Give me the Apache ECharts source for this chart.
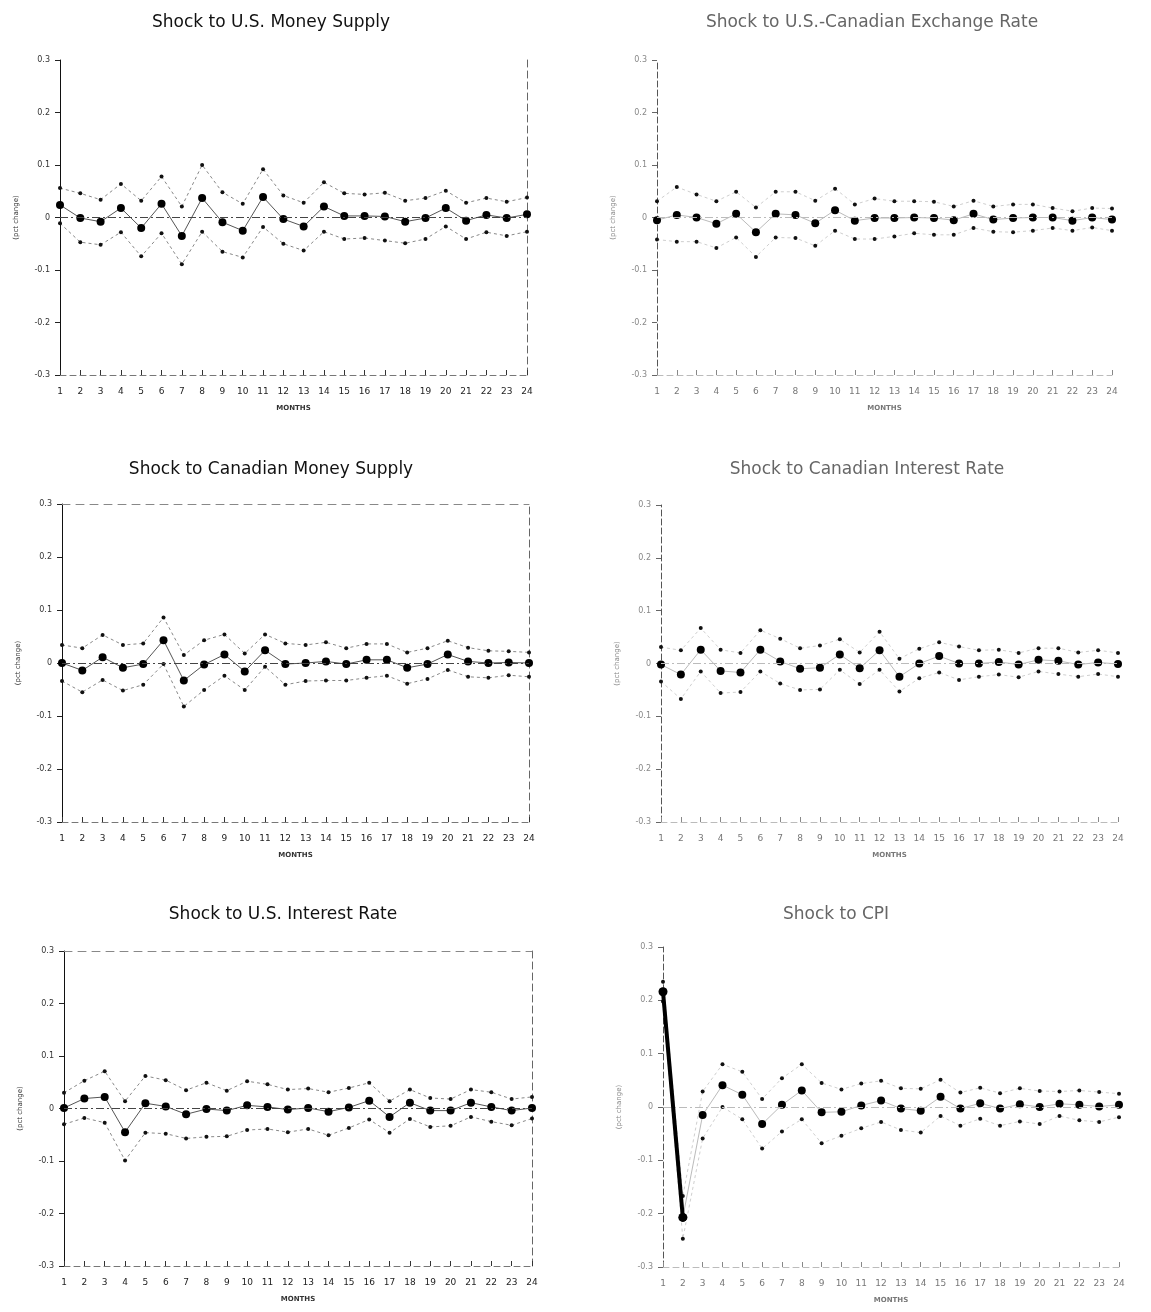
<!DOCTYPE html>
<html>
<head>
<meta charset="utf-8">
<script src="https://cdn.jsdelivr.net/npm/echarts@6/dist/echarts.min.js"></script>
<style>
html,body{margin:0;padding:0;background:#fff;}
#chart{width:1151px;height:1312px;}
</style>
</head>
<body>
<div id="chart"></div>
<script>
const months = [1,2,3,4,5,6,7,8,9,10,11,12,13,14,15,16,17,18,19,20,21,22,23,24];
const yTicks = [-0.3,-0.2,-0.1,0,0.1,0.2,0.3];
const titles = [
  "Shock to U.S. Money Supply",
  "Shock to U.S.-Canadian Exchange Rate",
  "Shock to Canadian Money Supply",
  "Shock to Canadian Interest Rate",
  "Shock to U.S. Interest Rate",
  "Shock to CPI"
];

// Panel 1: U.S. money supply
const usMoneyUpper = [0.056,0.046,0.034,0.064,0.032,0.078,0.021,0.100,0.048,0.026,0.092,0.042,0.028,0.067,0.046,0.044,0.047,0.032,0.037,0.051,0.028,0.037,0.030,0.038];
const usMoneyMid   = [0.024,-0.001,-0.008,0.018,-0.020,0.026,-0.035,0.037,-0.009,-0.025,0.039,-0.003,-0.017,0.021,0.003,0.003,0.002,-0.008,-0.001,0.018,-0.006,0.005,-0.001,0.006];
const usMoneyLower = [-0.011,-0.047,-0.052,-0.028,-0.074,-0.030,-0.089,-0.027,-0.065,-0.076,-0.018,-0.050,-0.063,-0.027,-0.041,-0.039,-0.044,-0.049,-0.041,-0.017,-0.041,-0.028,-0.035,-0.027];

// Panel 2: U.S.-Canadian exchange rate
const fxUpper = [0.031,0.058,0.044,0.031,0.049,0.019,0.049,0.049,0.032,0.055,0.025,0.036,0.031,0.031,0.030,0.021,0.032,0.021,0.025,0.025,0.018,0.012,0.018,0.017];
const fxMid   = [-0.005,0.005,0.000,-0.012,0.007,-0.028,0.007,0.005,-0.011,0.014,-0.006,-0.001,-0.001,0.000,-0.001,-0.005,0.007,-0.004,-0.001,0.000,0.000,-0.006,0.000,-0.004];
const fxLower = [-0.042,-0.046,-0.046,-0.058,-0.038,-0.075,-0.038,-0.039,-0.054,-0.025,-0.041,-0.041,-0.036,-0.030,-0.033,-0.033,-0.020,-0.027,-0.028,-0.025,-0.020,-0.025,-0.019,-0.025];

// Panel 3: Canadian money supply
const caMoneyUpper = [0.034,0.028,0.053,0.034,0.037,0.086,0.015,0.043,0.054,0.018,0.054,0.037,0.034,0.039,0.028,0.036,0.036,0.020,0.028,0.042,0.029,0.023,0.022,0.020];
const caMoneyMid   = [0.000,-0.014,0.011,-0.009,-0.002,0.043,-0.033,-0.003,0.016,-0.016,0.024,-0.002,0.000,0.003,-0.002,0.006,0.006,-0.009,-0.002,0.016,0.003,0.000,0.001,0.000];
const caMoneyLower = [-0.034,-0.055,-0.032,-0.052,-0.041,-0.002,-0.082,-0.051,-0.024,-0.051,-0.007,-0.041,-0.034,-0.033,-0.033,-0.028,-0.024,-0.039,-0.030,-0.013,-0.026,-0.028,-0.023,-0.026];

// Panel 4: Canadian interest rate
const caRateUpper = [0.031,0.025,0.067,0.026,0.020,0.063,0.047,0.029,0.034,0.046,0.021,0.060,0.009,0.028,0.040,0.032,0.025,0.026,0.020,0.029,0.029,0.021,0.025,0.020];
const caRateMid   = [-0.002,-0.021,0.026,-0.014,-0.017,0.026,0.004,-0.010,-0.008,0.017,-0.009,0.025,-0.025,0.000,0.014,0.000,0.000,0.003,-0.002,0.007,0.005,-0.002,0.002,-0.001];
const caRateLower = [-0.034,-0.067,-0.015,-0.056,-0.054,-0.015,-0.038,-0.050,-0.049,-0.012,-0.039,-0.012,-0.053,-0.028,-0.017,-0.031,-0.025,-0.021,-0.026,-0.015,-0.020,-0.025,-0.020,-0.025];

// Panel 5: U.S. interest rate
const usRateUpper = [0.030,0.053,0.071,0.014,0.062,0.054,0.035,0.049,0.034,0.052,0.046,0.036,0.038,0.031,0.039,0.049,0.014,0.036,0.020,0.018,0.036,0.031,0.018,0.022];
const usRateMid   = [0.001,0.019,0.022,-0.045,0.010,0.004,-0.011,-0.001,-0.004,0.006,0.003,-0.002,0.001,-0.006,0.002,0.015,-0.016,0.011,-0.004,-0.004,0.011,0.003,-0.004,0.001];
const usRateLower = [-0.030,-0.018,-0.027,-0.099,-0.046,-0.048,-0.057,-0.054,-0.053,-0.041,-0.039,-0.045,-0.039,-0.051,-0.037,-0.021,-0.046,-0.020,-0.035,-0.033,-0.016,-0.025,-0.032,-0.019];

// Panel 6: CPI
const cpiUpper = [0.235,-0.167,0.029,0.080,0.066,0.015,0.054,0.080,0.045,0.033,0.044,0.049,0.035,0.034,0.051,0.027,0.036,0.026,0.035,0.030,0.029,0.031,0.028,0.025];
const cpiMid   = [0.216,-0.207,-0.015,0.041,0.023,-0.032,0.004,0.031,-0.010,-0.009,0.003,0.012,-0.003,-0.007,0.019,-0.003,0.007,-0.003,0.005,0.000,0.006,0.004,0.001,0.004];
const cpiLower = [0.198,-0.247,-0.059,0.000,-0.023,-0.078,-0.046,-0.023,-0.068,-0.054,-0.040,-0.028,-0.043,-0.048,-0.017,-0.035,-0.022,-0.035,-0.027,-0.032,-0.017,-0.025,-0.028,-0.019];

const panels = [
  {u: usMoneyUpper, m: usMoneyMid, l: usMoneyLower},
  {u: fxUpper, m: fxMid, l: fxLower},
  {u: caMoneyUpper, m: caMoneyMid, l: caMoneyLower},
  {u: caRateUpper, m: caRateMid, l: caRateLower},
  {u: usRateUpper, m: usRateMid, l: usRateLower},
  {u: cpiUpper, m: cpiMid, l: cpiLower}
];

// layout (pixels)
const grids = [
  {left: 60,  top: 60,  width: 467, height: 315},
  {left: 657, top: 60,  width: 455, height: 315},
  {left: 62,  top: 504, width: 467, height: 318},
  {left: 661, top: 505, width: 457, height: 317},
  {left: 64,  top: 951, width: 468, height: 315},
  {left: 663, top: 947, width: 456, height: 320}
];
const titlePos = [
  {x: 266, y: 20}, {x: 867, y: 20},
  {x: 266, y: 467}, {x: 862, y: 467},
  {x: 278, y: 912}, {x: 831, y: 912}
];

const fontFam = '"DejaVu Sans", "Liberation Sans", sans-serif';
const option = {
  backgroundColor: '#ffffff',
  animation: false,
  title: [], grid: [], xAxis: [], yAxis: [], series: []
};

function fmt(v) {
  if (Math.abs(v) < 1e-9) return '0';
  return v.toFixed(1);
}

panels.forEach((p, i) => {
  const g = grids[i];
  const isLeft = (i % 2 === 0);
  const faint = !isLeft;
  const textCol = faint ? '#777' : '#222';
  option.grid.push({left: g.left, top: g.top, width: g.width, height: g.height, containLabel: false});
  option.title.push({
    text: titles[i],
    left: titlePos[i].x,
    top: titlePos[i].y - 11,
    textAlign: 'center',
    textStyle: {fontFamily: fontFam, fontSize: 17, fontWeight: 'normal', color: faint ? '#666' : '#111'}
  });
  // bottom x axis
  option.xAxis.push({
    type: 'value', gridIndex: i, min: 1, max: 24, interval: 1,
    name: 'MONTHS', nameLocation: 'middle', nameGap: 30,
    nameTextStyle: {fontFamily: fontFam, fontSize: 7, fontWeight: 'bold', color: faint ? '#777' : '#333'},
    axisLine: {show: true, onZero: false, lineStyle: {color: faint ? '#bbb' : '#777', type: [6, 4], width: 1}},
    axisTick: {show: true, inside: true, length: 5, lineStyle: {color: faint ? '#888' : '#333'}},
    axisLabel: {show: true, fontFamily: fontFam, fontSize: 9, color: textCol, margin: 12,
      formatter: v => (months.indexOf(v) >= 0 ? String(v) : '')},
    splitLine: {show: false}
  });
  // left y axis
  option.yAxis.push({
    type: 'value', gridIndex: i, min: yTicks[0], max: yTicks[yTicks.length - 1], interval: 0.1,
    name: '(pct change)', nameLocation: 'middle', nameGap: 40, nameRotate: 90,
    nameTextStyle: {fontFamily: fontFam, fontSize: 7, color: faint ? '#888' : '#333'},
    axisLine: {show: true, onZero: false, lineStyle: {color: faint ? '#555' : '#111', width: 1, type: faint ? [6, 3] : 'solid'}},
    axisTick: {show: true, length: 5, lineStyle: {color: faint ? '#666' : '#222'}},
    axisLabel: {fontFamily: fontFam, fontSize: 8, color: faint ? '#888' : '#333', margin: 10, formatter: fmt},
    splitLine: {show: false}
  });
});

// extra frame lines for left panels (right dashed border, top dashed border)
[0, 2, 4].forEach(i => {
  option.yAxis.push({
    type: 'value', gridIndex: i, position: 'right', min: -0.3, max: 0.3,
    axisLine: {show: true, onZero: false, lineStyle: {color: '#666', type: [7, 4], width: 1}},
    axisTick: {show: false}, axisLabel: {show: false}, splitLine: {show: false}
  });
});
[2, 4].forEach(i => {
  option.xAxis.push({
    type: 'value', gridIndex: i, position: 'top', min: 1, max: 24,
    axisLine: {show: true, onZero: false, lineStyle: {color: '#888', type: [8, 6], width: 1}},
    axisTick: {show: false}, axisLabel: {show: false}, splitLine: {show: false}
  });
});

panels.forEach((p, i) => {
  const isLeft = (i % 2 === 0);
  const lineCol = isLeft ? '#888' : '#cfcfcf';
  const toPts = arr => arr.map((v, k) => [months[k], v]);
  option.series.push({
    type: 'line', xAxisIndex: i, yAxisIndex: i, data: toPts(p.u),
    symbol: 'circle', symbolSize: 4, itemStyle: {color: '#111'},
    lineStyle: {color: lineCol, width: 1, type: [3, 3]}, z: 3
  });
  option.series.push({
    type: 'line', xAxisIndex: i, yAxisIndex: i, data: toPts(p.l),
    symbol: 'circle', symbolSize: 4, itemStyle: {color: '#111'},
    lineStyle: {color: lineCol, width: 1, type: [3, 3]}, z: 3
  });
  option.series.push({
    type: 'line', xAxisIndex: i, yAxisIndex: i, data: toPts(p.m),
    symbol: 'circle', symbolSize: 8, itemStyle: {color: '#000'},
    lineStyle: {color: isLeft ? '#555' : '#bbb', width: 1},
    z: 4,
    markLine: {
      silent: true, symbol: 'none', label: {show: false},
      lineStyle: {color: isLeft ? '#444' : '#bbb', type: [8, 3, 2, 3], width: 1},
      data: [{yAxis: 0}]
    }
  });
});

// thick impact line in CPI panel (months 1-2 of the response)
option.series.push({
  type: 'line', xAxisIndex: 5, yAxisIndex: 5,
  data: cpiMid.slice(0, 2).map((v, k) => [months[k], v]),
  symbol: 'circle', symbolSize: 9, itemStyle: {color: '#000'},
  lineStyle: {color: '#000', width: 4}, z: 5
});

const chart = echarts.init(document.getElementById('chart'), null, {renderer: 'canvas'});
chart.setOption(option);
</script>
</body>
</html>
